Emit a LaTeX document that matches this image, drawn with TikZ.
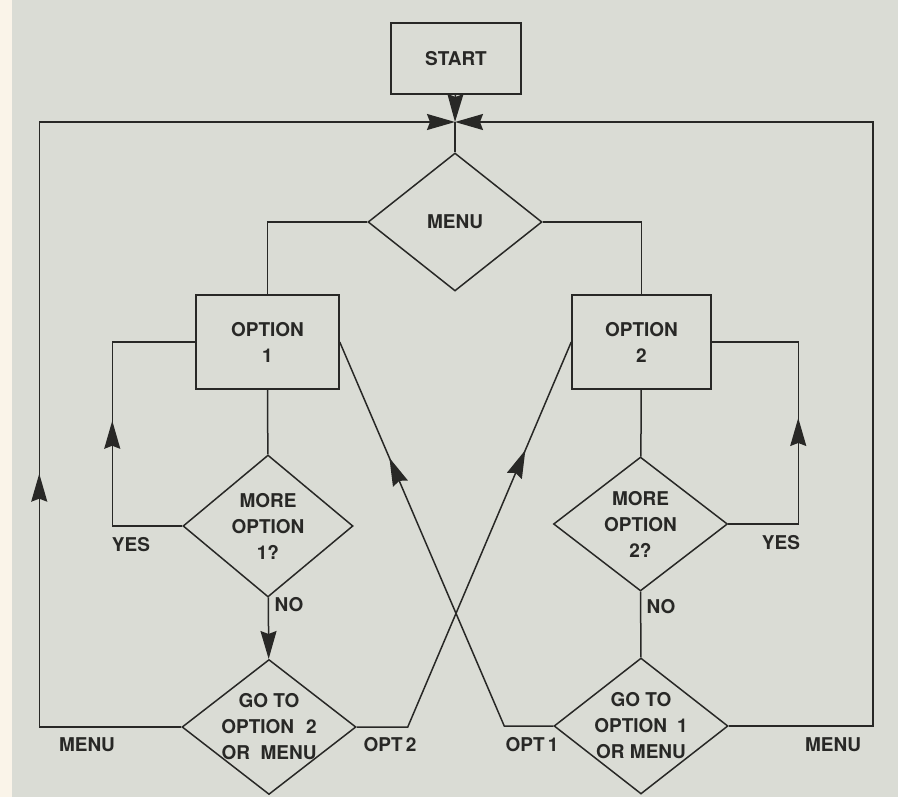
\documentclass[tikz,border=0pt]{standalone}
\usepackage{fontspec}
\setmainfont{TeX Gyre Heros}
\usetikzlibrary{arrows.meta, positioning, shapes.geometric, decorations.markings}

\definecolor{paper}{RGB}{218,220,213}
\definecolor{margin}{RGB}{250,244,233}
\definecolor{ink}{RGB}{40,40,38}

\tikzset{
  box/.style={rectangle, draw, minimum width=143pt, minimum height=94pt, align=center},
  decision/.style={diamond, draw, aspect=1.3, minimum width=174pt, minimum height=138pt,
    inner sep=0pt, align=center},
  lbl/.style={inner sep=2pt},
  arrowat/.style={postaction={decorate},
    decoration={markings, mark=at position #1 with {\arrow{>}}}}
}

\begin{document}
\begin{tikzpicture}[
  x=1pt, y=-1pt,
  >={Stealth[length=28pt, width=16pt, inset=3pt]},
  line width=1.5pt, color=ink,
  font=\fontsize{19}{26}\selectfont\bfseries
]
  \fill[paper] (0,0) rectangle (898,797);
  \fill[margin] (0,0) rectangle (12,797);
  \useasboundingbox (0,0) rectangle (898,797);

  \node[box, minimum width=130pt, minimum height=71pt] (start) at (456,58.5) {START};
  \coordinate (join) at (455,122);
  \node[decision] (menu) at (455,222) {MENU};
  \node[box] (opt1) at (267.5,342) {OPTION\\1};
  \node[box, minimum width=139pt] (opt2) at (641.5,342) {OPTION\\2};
  \node[decision, minimum width=170pt, minimum height=142pt] (more1) at (268,526) {MORE\\OPTION\\1?};
  \node[decision, minimum height=134pt] (more2) at (640.5,524) {MORE\\OPTION\\2?};
  \node[decision, minimum height=135pt, inner xsep=-14pt] (go2) at (269,727)
    {GO TO\\OPTION\hspace{12pt}2\\OR\ \ MENU};
  \node[decision, minimum height=136pt, inner xsep=-14pt] (go1) at (641,726)
    {GO TO\\OPTION\hspace{10pt}1\\OR MENU};

  % labels
  \node[lbl] (yes1) at (131,545) {YES};
  \node[lbl] (yes2) at (781,543) {YES};
  \node[lbl] (no1) at (289,605) {NO};
  \node[lbl] (no2) at (661,607) {NO};
  \node[lbl] (back1) at (87,745) {MENU};
  \node[lbl] (jump2) at (390,745) {OPT\,2};
  \node[lbl] (jump1) at (532,745) {OPT\,1};
  \node[lbl] (back2) at (833,745) {MENU};

  \draw[->] (start) -- (join);
  \draw (join) -- (menu);
  \draw (menu.west) -| (opt1);
  \draw (menu.east) -| (opt2);
  \draw (opt1) -- (more1);
  \draw (opt2) -- (more2);
  \draw[->] (more1) -- (go2);
  \draw (more2) -- (go1);

  % loops back to the same option
  \draw[arrowat=0.52] (more1.west) -- ++(-70,0) |- (opt1.west);
  \draw[arrowat=0.52] (more2.east) -- ++(70,0) |- (opt2.east);

  % back to menu
  \draw[->, arrowat=0.34] (go2.west) -- ++(-142,0) |- (join);
  \draw[->] (go1.east) -- ++(144,0) |- (join);

  % to the other option
  \draw[arrowat=0.75] (go2.east) -- ++(51,0) -- (opt2.west);
  \draw[arrowat=0.73] (go1.west) -- ++(-49,0) -- (opt1.east);
\end{tikzpicture}
\end{document}
